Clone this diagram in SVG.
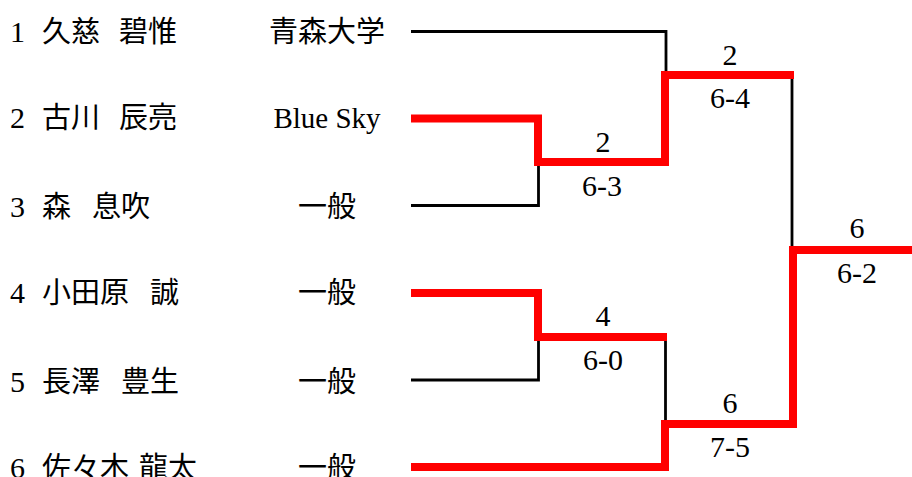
<svg xmlns="http://www.w3.org/2000/svg" width="912" height="477" viewBox="0 0 912 477">
<style>
  text { font-family: "Liberation Serif", "Noto Sans CJK JP", serif; font-size: 29px; fill: #000; }
  .num { text-anchor: middle; font-size: 30px; }
  .club { text-anchor: middle; }
  .score { text-anchor: middle; font-size: 30px; }
  .lose { fill: none; stroke: #000; stroke-width: 2.8; }
  .win { fill: none; stroke: #ff0000; stroke-width: 8; stroke-linejoin: miter; stroke-linecap: butt; }
</style>
<rect width="912" height="477" fill="#fff"/>
<g id="connectors">
  <path class="lose" d="M411,31.5 H666 V75"/>
  <path class="lose" d="M411,205.5 H538.5 V162"/>
  <path class="lose" d="M411,380 H538.5 V337"/>
  <path class="lose" d="M665.5,337 V424"/>
  <path class="lose" d="M792,75 V250"/>
  <path class="win" d="M411,118.5 H538 V162 H665 V75 H794"/>
  <path class="win" d="M411,293 H538 V337 H667"/>
  <path class="win" d="M411,467 H665 V424 H793 V250 H912"/>
</g>
<g id="player1">
  <text class="num" x="17.5" y="41.5">1</text>
  <text x="42" y="41.5">久慈</text>
  <text x="119" y="41.5">碧惟</text>
  <text class="club" x="327" y="41.5">青森大学</text>
</g>
<g id="player2">
  <text class="num" x="17.5" y="128">2</text>
  <text x="42" y="128">古川</text>
  <text x="119" y="128">辰亮</text>
  <text class="club" x="327" y="128">Blue Sky</text>
</g>
<g id="player3">
  <text class="num" x="17.5" y="216.5">3</text>
  <text x="42" y="216.5">森</text>
  <text x="92" y="216.5">息吹</text>
  <text class="club" x="327" y="216.5">一般</text>
</g>
<g id="player4">
  <text class="num" x="17.5" y="303">4</text>
  <text x="42" y="303">小田原</text>
  <text x="150" y="303">誠</text>
  <text class="club" x="327" y="303">一般</text>
</g>
<g id="player5">
  <text class="num" x="17.5" y="391.5">5</text>
  <text x="42" y="391.5">長澤</text>
  <text x="121" y="391.5">豊生</text>
  <text class="club" x="327" y="391.5">一般</text>
</g>
<g id="player6">
  <text class="num" x="17.5" y="478">6</text>
  <text x="42" y="478">佐々木</text>
  <text x="139" y="478">龍太</text>
  <text class="club" x="327" y="478">一般</text>
</g>
<g id="match1">
  <text class="score" x="603" y="152">2</text>
  <text class="score" x="602" y="196">6-3</text>
</g>
<g id="match2">
  <text class="score" x="603" y="326">4</text>
  <text class="score" x="603" y="370">6-0</text>
</g>
<g id="match3">
  <text class="score" x="730" y="65">2</text>
  <text class="score" x="730" y="108">6-4</text>
</g>
<g id="match4">
  <text class="score" x="730" y="413">6</text>
  <text class="score" x="730" y="457">7-5</text>
</g>
<g id="final">
  <text class="score" x="857" y="238">6</text>
  <text class="score" x="857" y="283">6-2</text>
</g>
</svg>
